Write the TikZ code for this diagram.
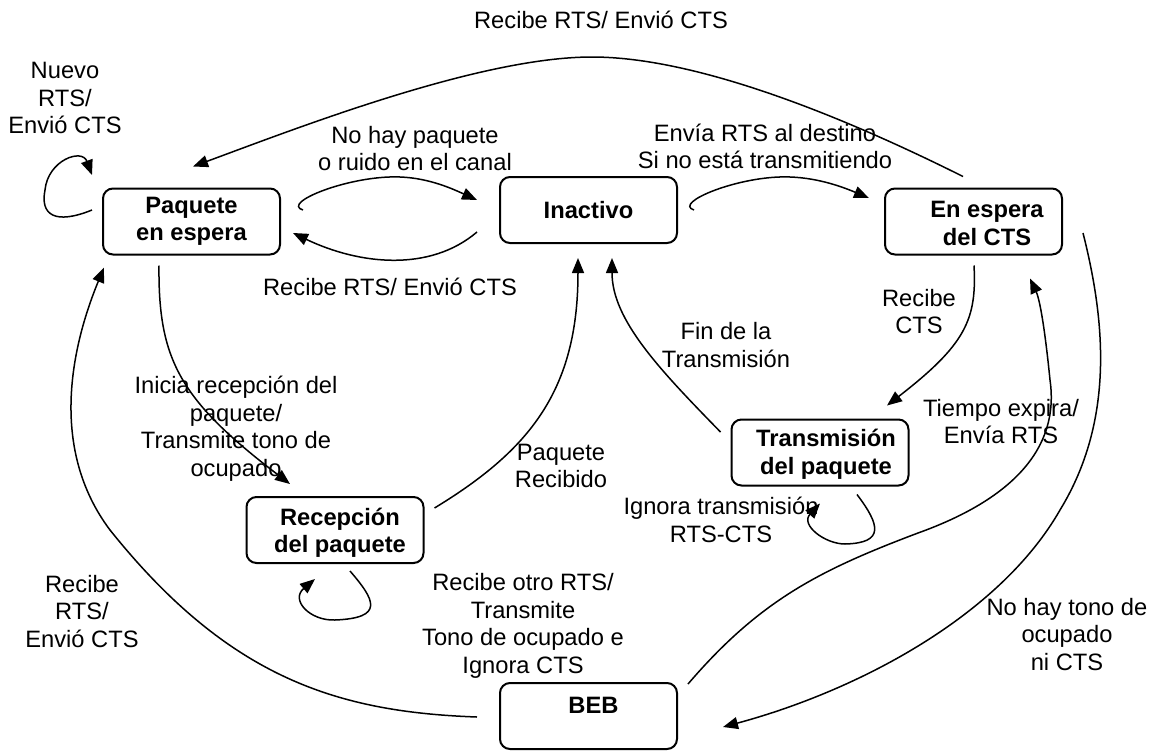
\documentclass[tikz,border=0pt]{standalone}
\usepackage{fontspec}
\setmainfont{Liberation Sans}
\usetikzlibrary{arrows.meta}
\tikzset{
 box/.style={draw, line width=2pt, rounded corners=10pt, minimum width=177pt, minimum height=66pt, inner sep=0pt},
 btxt/.style={font=\bfseries\fontsize{23.7}{27.5}\selectfont, align=center, inner sep=0pt},
 lbl/.style={font=\fontsize{23.7}{27.5}\selectfont, align=center, inner sep=0pt},
 arr/.style={line width=1.5pt, -{Triangle[length=15pt,width=12pt]}},
}
\begin{document}
\begin{tikzpicture}[x=1pt,y=-1pt]
\useasboundingbox (0,0) rectangle (1154,750);
% states
\node[box,btxt] (pq) at (191.5,221.5) {Paquete\\en espera};
\node[box,btxt] (in) at (588.5,210) {Inactivo};
\node[box] (ee) at (973.5,221.5) {};
\node[btxt] (eet) at ([shift={(13.5,2)}]ee.center) {En espera\\del CTS};
\node[box] (rc) at (335,530) {};
\node[btxt] (rct) at ([shift={(5,3)}]rc.center) {Recepción\\del paquete};
\node[box] (tr) at (820,452.5) {};
\node[btxt] (trt) at ([shift={(6,2)}]tr.center) {Transmisión\\del paquete};
\node[box] (beb) at (588.5,716) {};
\node[btxt] (bebt) at ([shift={(5,-11)}]beb.center) {BEB};
% connectors
\draw[arr] ([shift={(-10,-11.5)}]pq.west) .. controls (55,225) and (40,215) .. (45,190) .. controls (48,160) and (82,148) .. ([shift={(-10,-46.5)}]pq.west);
\draw[arr] ([shift={(-10.5,-11)}]ee.north) .. controls (850,120) and (700,57) .. (592,57) .. controls (480,57) and (300,127) .. ([shift={(1.5,-21)}]pq.north);
\draw[arr] ([shift={(22,-11.5)}]pq.east) .. controls (280,203) and (350,175) .. (400,177) .. controls (430,178) and (455,190) .. ([shift={(-22,-10)}]in.west);
\draw[arr] ([shift={(-22,22)}]in.west) .. controls (430,272) and (360,265) .. ([shift={(12,11.5)}]pq.east);
\draw[arr] ([shift={(16,0)}]in.east) .. controls (672,203) and (740,175) .. (790,177) .. controls (820,178) and (845,188) .. ([shift={(-15,-23.5)}]ee.west);
\draw[arr] ([shift={(0.5,10)}]ee.south) .. controls (977,320) and (965,345) .. ([shift={(67,-13)}]tr.north);
\draw[arr] ([shift={(-10,-20.5)}]tr.west) .. controls (660,370) and (612,320) .. ([shift={(23.5,14)}]in.south);
\draw[arr] ([shift={(10,-22)}]rc.east) .. controls (530,450) and (578,390) .. ([shift={(-10.5,14)}]in.south);
\draw[arr] ([shift={(-32.5,10)}]pq.south) .. controls (158,360) and (180,400) .. ([shift={(-45,-12)}]rc.north);
\draw[arr] ([shift={(15,7)}]rc.south) .. controls (375,600) and (385,618) .. (335,620) .. controls (310,621) and (290,600) .. ([shift={(-20,15)}]rc.south);
\draw[arr] ([shift={(37,8)}]tr.south) .. controls (880,525) and (885,543) .. (845,544) .. controls (825,544) and (800,525) .. ([shift={(0,17)}]tr.south);
\draw[arr] ([shift={(-22,1)}]beb.west) .. controls (340,712) and (230,680) .. (110,530) .. controls (50,450) and (70,350) .. ([shift={(2,12)}]pq.south west);
\draw[arr] ([shift={(10,-32)}]beb.east) .. controls (760,600) and (820,570) .. (918,533) .. controls (1010,500) and (1060,450) .. (1050,380) .. controls (1045,330) and (1040,300) .. ([shift={(56.5,23)}]ee.south);
\draw[arr] ([shift={(20,11.5)}]ee.east) .. controls (1105,320) and (1115,420) .. (1060,510) .. controls (1000,615) and (860,690) .. ([shift={(45,11)}]beb.east);
% labels
\node[lbl] (l1) at (65,98) {Nuevo\\RTS/\\Envió CTS};
\node[lbl] (l2) at (601,20) {Recibe RTS/ Envió CTS};
\node[lbl] (l3) at (415,148.5) {No hay paquete\\o ruido en el canal};
\node[lbl] (l4) at (765,146.5) {Envía RTS al destino\\Si no está transmitiendo};
\node[lbl] (l5) at (390,287) {Recibe RTS/ Envió CTS};
\node[lbl] (l6) at (919,311.5) {Recibe\\CTS};
\node[lbl] (l7) at (726,345) {Fin de la\\Transmisión};
\node[lbl] (l8) at (236,428.5) {Inicia recepción del\\paquete/\\Transmite tono de\\ocupado};
\node[lbl] (l9) at (561,466) {Paquete\\Recibido};
\node[lbl] (l10) at (1001,421.5) {Tiempo expira/\\Envía RTS};
\node[lbl] (l11) at (721,520) {Ignora transmisión\\RTS-CTS};
\node[lbl] (l12) at (82,611.5) {Recibe\\RTS/\\Envió CTS};
\node[lbl] (l13) at (523,626) {Recibe otro RTS/\\Transmite\\Tono de ocupado e\\Ignora CTS};
\node[lbl] (l14) at (1067,634.5) {No hay tono de\\ocupado\\ni CTS};
\end{tikzpicture}
\end{document}
